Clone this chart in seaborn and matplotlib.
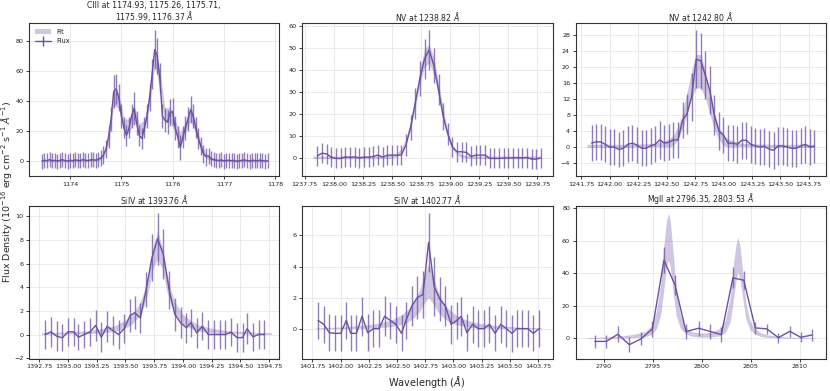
import numpy as np
import seaborn as sns
import matplotlib.pyplot as plt
from matplotlib.lines import Line2D
from matplotlib.patches import Patch
from matplotlib.ticker import MultipleLocator

# ------------------------------------------------------------
# Werte
# ------------------------------------------------------------

# CIII 1174.93 - 1176.37
ciii_wave = [1173.45, 1173.50, 1173.55, 1173.60, 1173.65, 1173.70, 1173.75, 1173.80, 1173.85, 1173.90,
             1173.95, 1174.00, 1174.05, 1174.10, 1174.15, 1174.20, 1174.25, 1174.30, 1174.35, 1174.40,
             1174.45, 1174.50, 1174.55, 1174.60, 1174.65, 1174.70, 1174.75, 1174.80, 1174.85, 1174.90,
             1174.95, 1175.00, 1175.05, 1175.10, 1175.15, 1175.20, 1175.25, 1175.30, 1175.35, 1175.40,
             1175.45, 1175.50, 1175.55, 1175.60, 1175.65, 1175.70, 1175.75, 1175.80, 1175.85, 1175.90,
             1175.95, 1176.00, 1176.05, 1176.10, 1176.15, 1176.20, 1176.25, 1176.30, 1176.35, 1176.40,
             1176.45, 1176.50, 1176.55, 1176.60, 1176.65, 1176.70, 1176.75, 1176.80, 1176.85, 1176.90,
             1176.95, 1177.00, 1177.05, 1177.10, 1177.15, 1177.20, 1177.25, 1177.30, 1177.35, 1177.40,
             1177.45, 1177.50, 1177.55, 1177.60, 1177.65, 1177.70, 1177.75, 1177.80, 1177.85]
ciii_flux = [0.0, 0.5, 0.3, 1.0, 0.2, 0.5, 0.0, 0.4, 1.0, 0.3,
             0.0, 0.5, 0.2, 0.8, 0.5, 0.3, 1.0, 0.6, 0.2, 0.8,
             1.0, 0.5, 1.2, 2.0, 4.0, 8.0, 16.0, 28.0, 46.0, 48.0,
             42.0, 30.0, 22.0, 17.0, 22.0, 30.0, 35.0, 25.0, 17.0, 15.0,
             22.0, 30.0, 42.0, 58.0, 74.0, 70.0, 55.0, 30.0, 27.0, 26.0,
             32.0, 33.0, 22.0, 16.0, 9.0, 16.0, 22.0, 28.0, 34.0, 30.0,
             22.0, 15.0, 10.0, 5.0, 3.0, 3.5, 1.5, 1.0, 0.5, 0.3,
             0.8, 0.0, 0.4, 0.6, 0.2, 0.5, -0.3, 0.2, 0.5, 0.8,
             0.3, 0.0, 0.5, 0.4, 0.2, 0.6, 0.3, 0.0, 0.2]
ciii_err = [5.0, 5.0, 5.0, 5.0, 5.0, 5.0, 5.0, 5.0, 5.0, 5.0,
            5.0, 5.0, 5.0, 5.0, 5.0, 5.0, 5.0, 5.0, 5.0, 5.0,
            5.0, 5.0, 5.0, 5.5, 6.0, 6.0, 7.0, 8.0, 11.0, 10.0,
            9.0, 8.0, 7.0, 7.0, 7.0, 8.0, 11.0, 8.0, 7.0, 7.0,
            7.0, 8.0, 9.0, 10.0, 13.0, 12.0, 10.0, 8.0, 8.0, 8.0,
            9.0, 9.0, 8.0, 7.0, 8.0, 7.0, 8.0, 8.0, 9.0, 8.0,
            7.0, 7.0, 6.0, 6.0, 6.0, 5.5, 5.0, 5.0, 5.0, 5.0,
            5.0, 5.0, 5.0, 5.0, 5.0, 5.0, 5.0, 5.0, 5.0, 5.0,
            5.0, 5.0, 5.0, 5.0, 5.0, 5.0, 5.0, 5.0, 5.0]
ciii_fit_wave = [1173.45, 1173.55, 1173.65, 1173.75, 1173.85, 1173.95, 1174.05, 1174.15, 1174.25, 1174.35,
                 1174.45, 1174.55, 1174.65, 1174.75, 1174.85, 1174.95, 1175.05, 1175.15, 1175.25, 1175.35,
                 1175.45, 1175.55, 1175.65, 1175.75, 1175.85, 1175.95, 1176.05, 1176.15, 1176.25, 1176.35,
                 1176.45, 1176.55, 1176.65, 1176.75, 1176.85, 1176.95, 1177.05, 1177.15, 1177.25, 1177.35,
                 1177.45, 1177.55, 1177.65, 1177.75, 1177.85]
ciii_fit_lo = [-0.5, -0.5, -0.5, -0.5, -0.5, -0.5, -0.45, -0.4, -0.35, -0.25,
               -0.1, 0.2, 2.0, 11.0, 37.0, 35.0, 20.0, 18.0, 27.0, 17.0,
               19.0, 37.0, 64.0, 48.0, 25.0, 26.0, 19.0, 11.0, 18.0, 27.0,
               18.0, 6.0, 2.0, 0.5, 0.0, -0.3, -0.4, -0.45, -0.5, -0.5,
               -0.5, -0.5, -0.5, -0.5, -0.5]
ciii_fit_hi = [1.1, 1.1, 1.1, 1.1, 1.1, 1.1, 1.15, 1.2, 1.25, 1.35,
               1.5, 2.2, 5.0, 17.0, 47.0, 45.0, 28.0, 28.0, 37.0, 25.0,
               27.0, 47.0, 76.0, 60.0, 35.0, 36.0, 27.0, 19.0, 26.0, 37.0,
               26.0, 12.0, 5.0, 2.5, 1.6, 1.3, 1.2, 1.15, 1.1, 1.1,
               1.1, 1.1, 1.1, 1.1, 1.1]

# NV 1238.82
nv1_wave = [1237.86, 1237.90, 1237.94, 1237.98, 1238.02, 1238.06, 1238.10, 1238.14, 1238.18, 1238.22,
            1238.26, 1238.30, 1238.34, 1238.38, 1238.42, 1238.46, 1238.50, 1238.54, 1238.58, 1238.62,
            1238.66, 1238.70, 1238.74, 1238.78, 1238.82, 1238.86, 1238.90, 1238.94, 1238.98, 1239.02,
            1239.06, 1239.10, 1239.14, 1239.18, 1239.22, 1239.26, 1239.30, 1239.34, 1239.38, 1239.42,
            1239.46, 1239.50, 1239.54, 1239.58, 1239.62, 1239.66, 1239.70, 1239.74, 1239.78]
nv1_flux = [1.2, 2.4, 2.0, 0.5, 0.0, 0.0, 0.7, 0.5, 0.7, 0.2,
            0.6, 0.6, 0.9, 1.5, 0.6, 1.5, 1.5, 1.5, 1.5, 6.0,
            14.0, 25.0, 36.0, 45.0, 49.0, 42.0, 31.0, 19.0, 11.0, 5.0,
            3.0, 3.0, 2.7, 0.9, 1.5, 1.5, 1.5, 0.0, 0.0, 0.0,
            0.2, 0.2, 0.3, 0.3, 0.2, 0.4, -0.3, -0.3, 0.2]
nv1_err = [4.5, 4.5, 4.5, 4.5, 4.5, 4.5, 4.5, 4.5, 4.5, 4.5,
           4.5, 4.5, 4.5, 4.5, 4.5, 4.5, 4.5, 4.5, 4.5, 5.0,
           5.5, 7.0, 8.0, 9.0, 9.0, 8.0, 7.0, 6.0, 5.0, 4.5,
           4.5, 4.5, 4.5, 4.5, 4.5, 4.5, 4.5, 4.5, 4.5, 4.5,
           4.5, 4.5, 4.5, 4.5, 4.5, 4.5, 4.5, 4.5, 4.5]
nv1_fit_wave = [1237.82, 1237.86, 1237.90, 1237.94, 1237.98, 1238.02, 1238.06, 1238.10, 1238.14, 1238.18,
                1238.22, 1238.26, 1238.30, 1238.34, 1238.38, 1238.42, 1238.46, 1238.50, 1238.54, 1238.58,
                1238.62, 1238.66, 1238.70, 1238.74, 1238.78, 1238.82, 1238.86, 1238.90, 1238.94, 1238.98,
                1239.02, 1239.06, 1239.10, 1239.14, 1239.18, 1239.22, 1239.26, 1239.30, 1239.34, 1239.38,
                1239.42, 1239.46, 1239.50, 1239.54, 1239.58, 1239.62, 1239.66, 1239.70, 1239.74, 1239.78]
nv1_fit_mid = [0.5, 0.5, 0.5, 0.5, 0.5, 0.5, 0.5, 0.5, 0.5, 0.5,
               0.5, 0.5, 0.5, 0.5, 0.5, 0.55, 0.6, 0.8, 1.5, 3.5,
               7.7, 15.1, 25.5, 36.9, 45.4, 47.3, 41.8, 31.3, 20.0, 10.9,
               5.2, 2.3, 1.1, 0.7, 0.5, 0.5, 0.5, 0.5, 0.5, 0.5,
               0.5, 0.5, 0.5, 0.5, 0.5, 0.5, 0.5, 0.5, 0.5, 0.5]
nv1_fit_hw = [0.6, 0.6, 0.6, 0.6, 0.6, 0.6, 0.6, 0.6, 0.6, 0.6,
              0.6, 0.6, 0.6, 0.6, 0.6, 0.6, 0.6, 0.65, 0.7, 0.9,
              1.2, 1.8, 2.5, 3.2, 4.0, 4.2, 3.8, 3.0, 2.2, 1.5,
              1.0, 0.8, 0.7, 0.6, 0.6, 0.6, 0.6, 0.6, 0.6, 0.6,
              0.6, 0.6, 0.6, 0.6, 0.6, 0.6, 0.6, 0.6, 0.6, 0.6]

# NV 1242.80
nv2_wave = [1241.84, 1241.88, 1241.92, 1241.96, 1242.00, 1242.04, 1242.08, 1242.12, 1242.16, 1242.20,
            1242.24, 1242.28, 1242.32, 1242.36, 1242.40, 1242.44, 1242.48, 1242.52, 1242.56, 1242.60,
            1242.64, 1242.68, 1242.72, 1242.76, 1242.80, 1242.84, 1242.88, 1242.92, 1242.96, 1243.00,
            1243.04, 1243.08, 1243.12, 1243.16, 1243.20, 1243.24, 1243.28, 1243.32, 1243.36, 1243.40,
            1243.44, 1243.48, 1243.52, 1243.56, 1243.60, 1243.64, 1243.68, 1243.72, 1243.76, 1243.80]
nv2_flux = [1.0, 1.3, 1.3, 0.7, 0.0, 0.0, -0.6, -0.3, 0.7, 1.0,
            0.5, -0.3, -0.3, 0.3, 0.7, 1.8, 1.0, 1.2, 1.8, 1.8,
            6.7, 8.4, 12.6, 22.0, 21.6, 18.0, 14.2, 8.0, 4.0, 3.0,
            1.0, 1.0, 0.7, 1.7, 1.7, 0.7, 0.3, 0.0, 0.2, -0.5,
            -0.8, 0.3, 0.3, 0.0, -0.3, -0.3, 0.3, 0.7, 0.0, 0.2]
nv2_err = [4.5, 4.5, 4.5, 4.5, 4.5, 4.5, 4.5, 4.5, 4.5, 4.5,
           4.5, 4.5, 4.5, 4.5, 4.5, 4.8, 4.5, 4.5, 4.5, 4.5,
           4.5, 5.0, 6.0, 7.3, 7.0, 6.0, 6.0, 5.0, 4.7, 4.5,
           4.5, 4.6, 4.6, 4.6, 4.6, 4.6, 4.6, 4.6, 4.6, 4.6,
           4.7, 4.7, 4.7, 4.7, 4.7, 4.7, 4.6, 4.6, 4.6, 4.2]
nv2_fit_wave = [1241.80, 1241.84, 1241.88, 1241.92, 1241.96, 1242.00, 1242.04, 1242.08, 1242.12, 1242.16,
                1242.20, 1242.24, 1242.28, 1242.32, 1242.36, 1242.40, 1242.44, 1242.48, 1242.52, 1242.56,
                1242.60, 1242.64, 1242.68, 1242.72, 1242.76, 1242.80, 1242.84, 1242.88, 1242.92, 1242.96,
                1243.00, 1243.04, 1243.08, 1243.12, 1243.16, 1243.20, 1243.24, 1243.28, 1243.32, 1243.36,
                1243.40, 1243.44, 1243.48, 1243.52, 1243.56, 1243.60, 1243.64, 1243.68, 1243.72, 1243.76,
                1243.80]
nv2_fit_mid = [0.3, 0.3, 0.3, 0.3, 0.3, 0.3, 0.3, 0.3, 0.3, 0.3,
               0.35, 0.4, 0.4, 0.45, 0.5, 0.55, 0.65, 0.8, 1.0, 1.7,
               3.4, 6.5, 11.0, 15.8, 19.0, 19.0, 15.8, 11.0, 6.5, 3.4,
               1.7, 1.0, 0.8, 0.65, 0.55, 0.5, 0.45, 0.4, 0.4, 0.35,
               0.3, 0.3, 0.3, 0.3, 0.3, 0.3, 0.3, 0.3, 0.3, 0.3,
               0.3]
nv2_fit_hw = [0.4, 0.4, 0.4, 0.4, 0.4, 0.4, 0.4, 0.4, 0.4, 0.4,
              0.4, 0.4, 0.4, 0.4, 0.4, 0.4, 0.6, 0.8, 1.0, 1.3,
              1.6, 2.0, 2.8, 3.5, 4.2, 4.2, 3.5, 2.8, 2.0, 1.6,
              1.3, 1.0, 0.8, 0.6, 0.4, 0.4, 0.4, 0.4, 0.4, 0.4,
              0.4, 0.4, 0.4, 0.4, 0.4, 0.4, 0.4, 0.4, 0.4, 0.4,
              0.4]

# SiIV 1393.76
si1_wave = [1392.80, 1392.85, 1392.90, 1392.95, 1393.00, 1393.05, 1393.09, 1393.14, 1393.19, 1393.24,
            1393.29, 1393.34, 1393.39, 1393.44, 1393.49, 1393.54, 1393.58, 1393.63, 1393.68, 1393.73,
            1393.78, 1393.83, 1393.88, 1393.93, 1393.98, 1394.03, 1394.07, 1394.12, 1394.17, 1394.22,
            1394.27, 1394.32, 1394.37, 1394.42, 1394.47, 1394.52, 1394.56, 1394.61, 1394.66, 1394.71]
si1_flux = [0.0, 0.23, -0.14, -0.28, 0.23, 0.23, -0.23, 0.0, 0.2, 0.77,
            -0.23, 0.7, 0.34, 0.0, 0.5, 1.6, 1.85, 1.4, 3.8, 6.5,
            8.1, 6.8, 3.8, 1.7, 1.0, 0.57, 1.0, 0.14, 0.7, 0.0,
            0.0, 0.0, 0.0, 0.2, -0.26, -0.26, 0.5, -0.2, 0.0, 0.0]
si1_err = [1.2, 1.25, 1.25, 1.15, 1.2, 1.2, 1.1, 1.15, 1.2, 1.3,
           1.25, 1.3, 1.25, 1.2, 1.25, 1.4, 1.4, 1.3, 1.5, 2.0,
           2.2, 2.1, 1.6, 1.4, 1.3, 1.25, 1.2, 1.25, 1.2, 1.2,
           1.2, 1.2, 1.2, 1.2, 1.2, 1.2, 1.3, 1.2, 1.2, 1.2]
si1_fit_wave = [1392.77, 1392.97, 1393.17, 1393.32, 1393.42, 1393.50, 1393.56, 1393.62, 1393.66, 1393.70,
                1393.74, 1393.78, 1393.82, 1393.86, 1393.90, 1393.94, 1394.00, 1394.06, 1394.14, 1394.24,
                1394.40, 1394.60, 1394.77]
si1_fit_lo = [0.0, 0.04, 0.08, 0.15, 0.3, 0.55, 0.9, 1.6, 2.4, 3.7,
              5.6, 6.4, 5.6, 3.7, 2.4, 1.6, 0.9, 0.55, 0.3, 0.15,
              0.08, 0.04, 0.0]
si1_fit_hi = [0.16, 0.2, 0.32, 0.55, 0.8, 1.25, 1.7, 2.6, 3.6, 5.3,
              7.4, 8.8, 7.4, 5.3, 3.6, 2.6, 1.7, 1.25, 0.8, 0.55,
              0.32, 0.2, 0.16]

# SiIV 1402.77
si2_wave = [1401.80, 1401.85, 1401.90, 1401.95, 1402.00, 1402.05, 1402.09, 1402.14, 1402.19, 1402.24,
            1402.29, 1402.34, 1402.39, 1402.44, 1402.49, 1402.54, 1402.58, 1402.63, 1402.68, 1402.73,
            1402.78, 1402.83, 1402.88, 1402.93, 1402.98, 1403.03, 1403.07, 1403.12, 1403.17, 1403.22,
            1403.27, 1403.32, 1403.37, 1403.42, 1403.47, 1403.52, 1403.56, 1403.61, 1403.66, 1403.71,
            1403.76]
si2_flux = [0.53, 0.28, -0.26, -0.3, -0.3, 0.53, -0.3, -0.3, 0.8, -0.26,
            0.0, 0.0, 0.8, 0.53, 0.28, -0.3, 0.53, 1.45, 2.0, 2.2,
            5.55, 2.7, 1.9, 1.45, 0.28, 0.53, 0.8, -0.26, 0.28, 0.0,
            0.0, 0.28, -0.3, 0.28, 0.0, -0.3, 0.0, 0.0, 0.0, -0.3,
            0.0]
si2_err = [1.2, 1.2, 1.2, 1.15, 1.15, 1.2, 1.15, 1.15, 1.25, 1.2,
           1.2, 1.2, 1.3, 1.2, 1.2, 1.15, 1.2, 1.3, 1.4, 1.5,
           1.9, 1.9, 1.4, 1.3, 1.25, 1.2, 1.25, 1.2, 1.2, 1.2,
           1.2, 1.2, 1.15, 1.2, 1.2, 1.2, 1.2, 1.2, 1.2, 1.15,
           1.2]
si2_fit_wave = [1401.78, 1402.00, 1402.20, 1402.35, 1402.45, 1402.53, 1402.60, 1402.65, 1402.70, 1402.74,
                1402.78, 1402.82, 1402.86, 1402.91, 1402.96, 1403.03, 1403.11, 1403.21, 1403.36, 1403.56,
                1403.78]
si2_fit_lo = [0.0, 0.01, 0.02, 0.07, 0.13, 0.25, 0.45, 0.7, 1.1, 1.6,
              2.0, 1.6, 1.1, 0.7, 0.45, 0.25, 0.13, 0.07, 0.02, 0.01,
              0.0]
si2_fit_hi = [0.06, 0.11, 0.22, 0.37, 0.57, 0.85, 1.25, 1.7, 2.5, 3.4,
              4.2, 3.4, 2.5, 1.7, 1.25, 0.85, 0.57, 0.37, 0.22, 0.11,
              0.06]

# MgII 2796.35, 2803.53
mg_wave = [2789.09, 2790.27, 2791.45, 2792.62, 2793.80, 2794.97, 2796.15, 2797.29, 2798.40, 2799.68,
           2800.82, 2802.00, 2803.18, 2804.29, 2805.46, 2806.64, 2807.82, 2808.99, 2810.10, 2811.28]
mg_flux = [-1.9, -1.9, 2.5, -3.9, -0.4, 5.8, 48.0, 32.6, 4.1, 6.2,
           4.3, 2.3, 37.1, 35.7, 6.4, 5.8, 0.4, 4.3, 0.6, 2.1]
mg_err = [4.0, 4.0, 5.0, 4.5, 4.0, 5.0, 8.0, 6.0, 4.5, 4.5,
          4.5, 4.5, 6.5, 5.5, 3.5, 3.0, 3.0, 3.5, 3.0, 3.5]
mg_fit_wave = [2788.3, 2790.0, 2791.5, 2792.5, 2793.5, 2794.3, 2794.9, 2795.4, 2795.8, 2796.1,
               2796.4, 2796.6, 2796.8, 2797.1, 2797.4, 2797.8, 2798.3, 2799.0, 2800.0, 2801.0,
               2801.8, 2802.4, 2802.9, 2803.2, 2803.5, 2803.7, 2803.9, 2804.2, 2804.5, 2804.9,
               2805.4, 2806.1, 2807.0, 2808.5, 2810.0, 2811.5]
mg_fit_lo = [0.0, 0.0, 0.1, 0.2, 0.5, 1.0, 2.5, 6.0, 14.0, 28.0,
             44.0, 48.0, 44.0, 28.0, 14.0, 6.5, 3.0, 1.2, 0.7, 0.8,
             1.5, 3.5, 10.0, 22.0, 36.0, 41.0, 36.0, 24.0, 12.0, 5.5,
             2.5, 1.0, 0.4, 0.1, 0.0, 0.0]
mg_fit_hi = [0.4, 0.8, 1.3, 2.0, 3.0, 4.5, 8.0, 17.0, 33.0, 55.0,
             72.0, 77.0, 72.0, 52.0, 30.0, 15.0, 7.0, 4.0, 3.2, 3.8,
             6.0, 11.0, 25.0, 44.0, 58.0, 62.0, 57.0, 40.0, 22.0, 11.0,
             6.0, 3.2, 1.8, 0.9, 0.5, 0.3]

titles = ["CIII at 1174.93, 1175.26, 1175.71,\n1175.99, 1176.37 $\\AA$",
          "NV at 1238.82 $\\AA$",
          "NV at 1242.80 $\\AA$",
          "SiIV at 1393.76 $\\AA$",
          "SiIV at 1402.77 $\\AA$",
          "MgII at 2796.35, 2803.53 $\\AA$"]

# Fit-Band aus Mitte und halber Breite
nv1_fit_lo = np.array(nv1_fit_mid) - np.array(nv1_fit_hw)
nv1_fit_hi = np.array(nv1_fit_mid) + np.array(nv1_fit_hw)
nv2_fit_lo = np.array(nv2_fit_mid) - np.array(nv2_fit_hw)
nv2_fit_hi = np.array(nv2_fit_mid) + np.array(nv2_fit_hw)

# Achsenbereiche wie im Original
x_limits = [(1173.20, 1178.08), (1237.73, 1239.88), (1241.70, 1243.90),
            (1392.66, 1394.84), (1401.66, 1403.88), (2787.14, 2812.66)]

panels = [
    (ciii_wave, ciii_flux, ciii_err, ciii_fit_wave, ciii_fit_lo, ciii_fit_hi, 1.0, 20),
    (nv1_wave, nv1_flux, nv1_err, nv1_fit_wave, nv1_fit_lo, nv1_fit_hi, 0.25, 10),
    (nv2_wave, nv2_flux, nv2_err, nv2_fit_wave, nv2_fit_lo, nv2_fit_hi, 0.25, 4),
    (si1_wave, si1_flux, si1_err, si1_fit_wave, si1_fit_lo, si1_fit_hi, 0.25, 2),
    (si2_wave, si2_flux, si2_err, si2_fit_wave, si2_fit_lo, si2_fit_hi, 0.25, 2),
    (mg_wave, mg_flux, mg_err, mg_fit_wave, mg_fit_lo, mg_fit_hi, 5, 20),
]

# ------------------------------------------------------------
# Grafik
# ------------------------------------------------------------
sns.set_theme(style="whitegrid", rc={
    "axes.edgecolor": "#333333",
    "axes.linewidth": 0.8,
    "grid.color": "#e6e6e6",
    "grid.linewidth": 0.6,
    "xtick.bottom": True,
    "ytick.left": True,
    "xtick.color": "#222222",
    "ytick.color": "#222222",
})
plt.rcParams["font.family"] = ["DejaVu Sans"]

lila = "#6a51a3"

fig, axes = plt.subplots(2, 3, figsize=(8.3, 3.91), dpi=100)
fig.subplots_adjust(left=0.035, right=0.995, top=0.941, bottom=0.082,
                    wspace=0.092, hspace=0.196)

for ax, titel, xlim, (w, f, e, fw, flo, fhi, xstep, ystep) in zip(axes.flat, titles, x_limits, panels):
    ax.fill_between(fw, flo, fhi, color=lila, alpha=0.32, linewidth=0)
    ax.errorbar(w, f, yerr=e, fmt="none", ecolor=lila, elinewidth=1.0, alpha=0.75)
    sns.lineplot(x=w, y=f, ax=ax, color=lila, linewidth=1.0, sort=False)
    ax.set_title(titel, fontsize=5.6, pad=1.5, linespacing=0.88)
    ax.set_xlim(xlim)
    ax.xaxis.set_major_locator(MultipleLocator(xstep))
    ax.yaxis.set_major_locator(MultipleLocator(ystep))
    ax.ticklabel_format(axis="x", useOffset=False)
    ax.tick_params(axis="both", length=2.5, width=0.6, pad=1.5, labelsize=4.6)
    ax.grid(True)

handles = [Patch(facecolor=lila, alpha=0.32, edgecolor="none", label="Fit"),
           Line2D([0], [0], color=lila, lw=1.0, marker="|", markersize=7,
                  markeredgewidth=1.0, label="Flux")]
axes[0, 0].legend(handles=handles, loc="upper left", fontsize=4.8, frameon=False,
                  handlelength=2.4, borderaxespad=0.5)

fig.text(0.008, 0.51, "Flux Density (10$^{-16}$ erg cm$^{-2}$ s$^{-1}$ $\\AA^{-1}$)",
         rotation=90, ha="center", va="center", fontsize=6.8)
fig.text(0.514, 0.022, "Wavelength ($\\AA$)", ha="center", va="center", fontsize=7.0)

fig.savefig("out.png", dpi=100)
